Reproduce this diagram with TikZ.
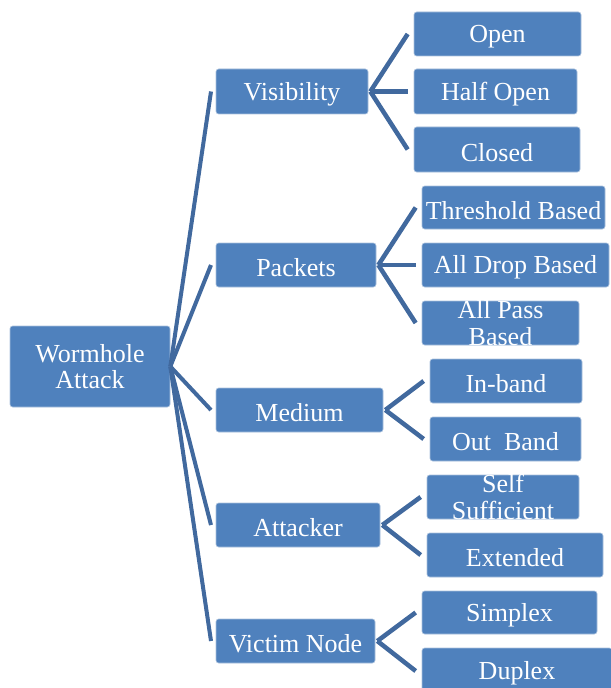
\documentclass[tikz,border=0pt]{standalone}
\usepackage{fontspec}
\setmainfont{Liberation Serif}
\usetikzlibrary{fit}
\definecolor{boxblue}{HTML}{4F81BD}
\definecolor{lineblue}{HTML}{41699E}
\definecolor{edgeblue}{HTML}{A9C0DD}
\tikzset{
  box/.style={fill=boxblue, draw=edgeblue, line width=0.5pt, rounded corners=2pt, inner sep=0pt},
  lbl/.style={text=white, align=center, inner sep=0pt,
    font=\fontsize{19.5pt}{20pt}\selectfont},
  lbla/.style={lbl, yshift=-2pt},
  rootline/.style={draw=lineblue, line width=3pt},
  leafline/.style={draw=lineblue, line width=3.4pt},
}
\begin{document}
\begin{tikzpicture}[x=0.75pt,y=-0.75pt]
\useasboundingbox (0,0) rectangle (610,688);
% root
\node[box, fit={(10,326) (170,407)}, label={[lbl]center:{Wormhole\\Attack}}] (root) {};
% level 1
\node[box, fit={(216,69) (368,114)}, label={[lbla]center:Visibility}] (vis) {};
\node[box, fit={(216,243) (376,287)}, label={[lbla]center:Packets}] (pkt) {};
\node[box, fit={(216,388) (383,432)}, label={[lbla]center:Medium}] (med) {};
\node[box, fit={(216,503) (380,547)}, label={[lbla]center:Attacker}] (att) {};
\node[box, fit={(216,619) (375,663)}, label={[lbla]center:Victim Node}] (vic) {};
% level 2
\node[box, fit={(414,12) (581,56)}, label={[lbla]center:Open}] (open) {};
\node[box, fit={(414,69) (577,114)}, label={[lbla]center:Half Open}] (half) {};
\node[box, fit={(414,127) (580,172)}, label={[lbla]center:Closed}] (closed) {};
\node[box, fit={(422,186) (605,229)}, label={[lbla]center:Threshold Based}] (thr) {};
\node[box, fit={(422,243) (609,287)}, label={[lbla]center:All Drop Based}] (drop) {};
\node[box, fit={(422,301) (579,345)}, label={[lbl]center:{All Pass\\Based}}] (pass) {};
\node[box, fit={(430,359) (582,403)}, label={[lbla]center:In-band}] (inb) {};
\node[box, fit={(430,417) (581,461)}, label={[lbla]center:{Out~ Band}}] (outb) {};
\node[box, fit={(427,475) (579,519)}, label={[lbl]center:{Self\\Sufficient}}] (self) {};
\node[box, fit={(427,533) (603,577)}, label={[lbla]center:Extended}] (ext) {};
\node[box, fit={(422,591) (597,634)}, label={[lbla]center:Simplex}] (simp) {};
\node[box, fit={(422,648) (612,694)}, label={[lbla]center:Duplex}] (dup) {};
% connectors root -> level 1
\foreach \n in {vis,pkt,med,att,vic}
  \draw[rootline] (root.east) -- ([xshift=-3.5pt]\n.west);
% level 1 -> level 2
\foreach \a/\b in {vis/open,vis/half,vis/closed,pkt/thr,pkt/drop,pkt/pass,med/inb,med/outb,att/self,att/ext,vic/simp,vic/dup}
  \draw[leafline] ([xshift=1.5pt]\a.east) -- ([xshift=-4.5pt]\b.west);
\end{tikzpicture}
\end{document}
